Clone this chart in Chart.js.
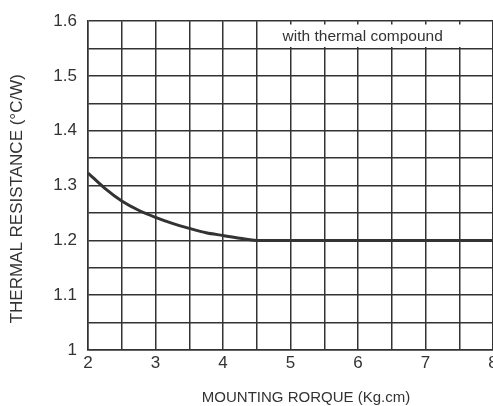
<!DOCTYPE html>
<html>
<head>
<meta charset="utf-8">
<script src="https://cdn.jsdelivr.net/npm/chart.js@4/dist/chart.umd.min.js"></script>
<style>
  html, body { margin: 0; padding: 0; background: #fff; overflow: hidden; }
  #wrap { width: 520px; height: 406px; }
</style>
</head>
<body>
<div id="wrap"><canvas id="chart"></canvas></div>
<script>
// values
let torque = [2, 2.25, 2.5, 2.75, 3, 3.25, 3.5, 3.75, 4, 4.25, 4.5, 5, 5.5, 6, 6.5, 7, 7.5, 8]
let resistance = [1.323, 1.295, 1.272, 1.255, 1.242, 1.231, 1.222, 1.214, 1.209, 1.204, 1.2, 1.2, 1.2, 1.2, 1.2, 1.2, 1.2, 1.2]
let noteText = "with thermal compound"
let xTitle = "MOUNTING RORQUE (Kg.cm)"
let yTitle = "THERMAL RESISTANCE (\u00B0C/W)"

let points = []
for(let i = 0; i < torque.length; ++i) {
	points.push({x: torque[i], y: resistance[i]})
}

let gridColor = "#333333"
let textColor = "#333333"
let fontFamily = "'Liberation Sans', Arial, sans-serif"

// white label box in the top row of the grid, plus the axis titles
let notePlugin = {
	id: 'note',
	afterDatasetsDraw(chart) {
		let ctx = chart.ctx
		let xs = chart.scales.x
		let ys = chart.scales.y
		let x0 = xs.getPixelForValue(4.53)
		let x1 = xs.getPixelForValue(7.53)
		let y0 = ys.getPixelForValue(1.594)
		let y1 = ys.getPixelForValue(1.553)
		ctx.save()
		ctx.fillStyle = "#ffffff"
		ctx.fillRect(x0, y0, x1 - x0, y1 - y0)
		ctx.fillStyle = textColor
		ctx.font = "15.5px " + fontFamily
		ctx.textAlign = "center"
		ctx.textBaseline = "middle"
		ctx.fillText(noteText, xs.getPixelForValue(6.07), ys.getPixelForValue(1.572))

		// axis titles sit a little off-centre in the original
		ctx.font = "15px " + fontFamily
		ctx.fillText(xTitle, xs.getPixelForValue(5.23), 398)
		ctx.translate(17, ys.getPixelForValue(1.3 - 0.024))
		ctx.rotate(-Math.PI / 2)
		ctx.font = "17px " + fontFamily
		ctx.fillText(yTitle, 0, 0)
		ctx.restore()
	}
}

new Chart(document.getElementById('chart'), {
	'type': 'line',
	'data': {
		'datasets': [{
			'data': points,
			'fill': false,
			'borderColor': "#333333",
			'borderWidth': 3,
			'pointRadius': 0,
			'cubicInterpolationMode': 'monotone',
		}]
	},
	'options': {
		'responsive': true,
		'maintainAspectRatio': false,
		'animation': false,
		'layout': { 'padding': { 'top': 17, 'right': 27, 'left': 0, 'bottom': 0 } },
		'plugins': {
			'legend': { 'display': false },
			'tooltip': { 'enabled': false }
		},
		'scales': {
			'x': {
				'type': 'linear',
				'min': 2,
				'max': 8,
				'afterFit': function(scale) { scale.height = 56 },
				'grid': { 'color': gridColor, 'lineWidth': 1.5, 'drawTicks': false },
				'border': { 'color': gridColor, 'width': 1.5 },
				'ticks': {
					'stepSize': 0.5,
					'padding': 3,
					'color': textColor,
					'font': { 'family': fontFamily, 'size': 17 },
					'maxRotation': 0,
					'autoSkip': false,
					'callback': function(v) {
						return Math.abs(v - Math.round(v)) < 1e-6 ? String(Math.round(v)) : ''
					}
				}
			},
			'y': {
				'min': 1,
				'max': 1.6,
				'afterFit': function(scale) { scale.width = 88 },
				'grid': { 'color': gridColor, 'lineWidth': 1.5, 'drawTicks': false },
				'border': { 'color': gridColor, 'width': 1.5 },
				'ticks': {
					'stepSize': 0.05,
					'padding': 11,
					'color': textColor,
					'font': { 'family': fontFamily, 'size': 17 },
					'autoSkip': false,
					'callback': function(v) {
						let h = Math.round(v * 100)
						return h % 10 === 0 ? String(h / 100) : ''
					}
				}
			}
		}
	},
	'plugins': [notePlugin]
});
</script>
</body>
</html>
